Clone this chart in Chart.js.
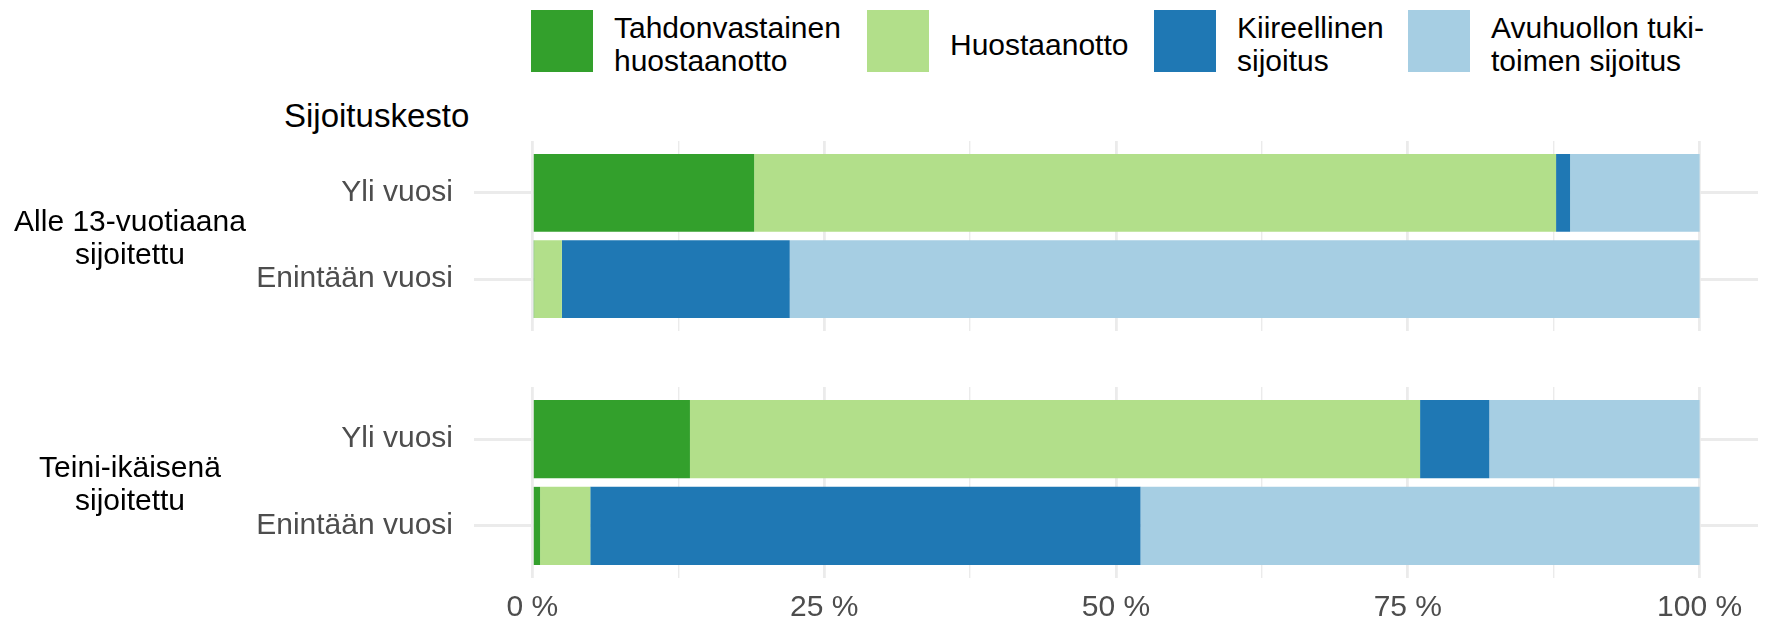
<!DOCTYPE html>
<html>
<head>
<meta charset="utf-8">
<script src="https://cdn.jsdelivr.net/npm/chart.js@4.4.1/dist/chart.umd.min.js"></script>
<style>
  body { margin: 0; width: 1766px; height: 623px; background: #fff; position: relative; overflow: hidden;
         font-family: "Liberation Sans", Arial, sans-serif; }
  canvas { position: absolute; left: 0; }
  .legend-item { position: absolute; top: 10px; height: 62px; display: flex; align-items: center; }
  .legend-box { width: 62px; height: 62px; margin-right: 21px; }
  .legend-text { font-size: 30px; line-height: 33px; white-space: pre; color: #000; position: relative; top: 3px; }
  .group-label { position: absolute; left: 0; width: 260px; text-align: center; font-size: 30px;
                 line-height: 33px; white-space: pre; color: #000; transform: translateY(-50%); }
  #title { position: absolute; left: 284px; top: 99px; font-size: 33px; line-height: 33px; color: #000; }
</style>
</head>
<body>
<div id="legend"></div>
<div id="title">Sijoituskesto</div>
<canvas id="panel1" width="1766" height="190" style="top:141px"></canvas>
<canvas id="panel2" width="1766" height="236" style="top:387px"></canvas>

<script>
// data (percent of placements)
const seriesNames = ['Tahdonvastainen\nhuostaanotto', 'Huostaanotto', 'Kiireellinen\nsijoitus', 'Avuhuollon tuki-\ntoimen sijoitus'];
const seriesColors = ['#33a02c', '#b2df8a', '#1f78b4', '#a6cee3'];
const groupNames = ['Alle 13-vuotiaana\nsijoitettu', 'Teini-ikäisenä\nsijoitettu'];
const durations = ['Yli vuosi', 'Enintään vuosi'];

const alle13Yli = [19.0, 68.7, 1.2, 11.1];
const alle13Enint = [0.15, 2.38, 19.52, 77.95];
const teiniYli = [13.5, 62.55, 5.93, 18.02];
const teiniEnint = [0.66, 4.3, 47.14, 47.9];

const xTicks = [0, 25, 50, 75, 100];
const xMinorTicks = [12.5, 37.5, 62.5, 87.5];

// layout
const legendLeft = [531, 867, 1154, 1408];
const groupCenters = [237, 483];
const yAxisWidth = 474;

const legend = document.getElementById('legend');
seriesNames.forEach((name, i) => {
  const item = document.createElement('div');
  item.className = 'legend-item';
  item.style.left = legendLeft[i] + 'px';
  item.innerHTML = '<div class="legend-box" style="background:' + seriesColors[i] + '"></div>' +
                   '<div class="legend-text"></div>';
  item.querySelector('.legend-text').textContent = name;
  legend.appendChild(item);
});

groupNames.forEach((name, i) => {
  const lab = document.createElement('div');
  lab.className = 'group-label';
  lab.style.top = groupCenters[i] + 'px';
  lab.textContent = name;
  document.body.appendChild(lab);
});

function makePanel(canvasId, yliVals, enintVals, showX) {
  const datasets = seriesNames.map((name, s) => ({
    label: name,
    data: [{ y: 0, x: yliVals[s] }, { y: 1, x: enintVals[s] }],
    backgroundColor: seriesColors[s],
    borderWidth: 0,
    barPercentage: 0.9,
    categoryPercentage: 1
  }));

  return new Chart(document.getElementById(canvasId), {
    type: 'bar',
    data: { datasets: datasets },
    options: {
      indexAxis: 'y',
      responsive: false,
      animation: false,
      layout: { padding: { left: 0, right: 8, top: 0, bottom: 0 } },
      plugins: { legend: { display: false }, tooltip: { enabled: false } },
      scales: {
        x: {
          type: 'linear',
          stacked: true,
          min: -5,
          max: 105,
          afterBuildTicks: scale => {
            scale.ticks = xTicks.concat(xMinorTicks).sort((a, b) => a - b).map(v => ({ value: v }));
          },
          afterFit: scale => {
            scale.height = showX ? 45 : 0;
            scale.paddingLeft = 0;
            scale.paddingRight = 0;
          },
          border: { display: false },
          grid: {
            color: '#ebebeb',
            lineWidth: ctx => (ctx.tick && xTicks.includes(ctx.tick.value)) ? 2.8 : 1.4,
            drawTicks: false
          },
          ticks: {
            display: showX,
            autoSkip: false,
            maxRotation: 0,
            padding: 12,
            color: '#4d4d4d',
            font: { size: 30, family: 'Liberation Sans' },
            callback: v => xTicks.includes(v) ? v + ' %' : ''
          }
        },
        y: {
          type: 'linear',
          stacked: true,
          reverse: true,
          offset: false,
          min: -0.6,
          max: 1.6,
          afterBuildTicks: scale => {
            scale.ticks = durations.map((d, i) => ({ value: i }));
          },
          afterFit: scale => {
            scale.width = yAxisWidth;
            scale.paddingTop = 0;
            scale.paddingBottom = 0;
          },
          border: { display: false },
          grid: { color: '#ebebeb', lineWidth: 3, drawTicks: false, offset: false },
          ticks: {
            padding: 21,
            color: '#4d4d4d',
            font: { size: 30, family: 'Liberation Sans' },
            callback: v => durations[v]
          }
        }
      }
    }
  });
}

makePanel('panel1', alle13Yli, alle13Enint, false);
makePanel('panel2', teiniYli, teiniEnint, true);
</script>
</body>
</html>
